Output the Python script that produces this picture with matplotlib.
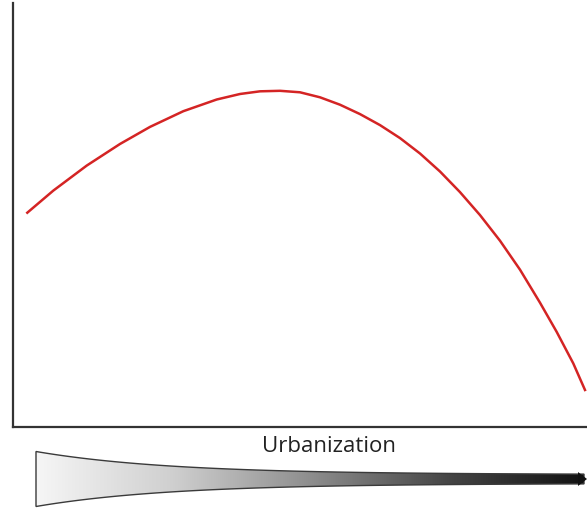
import numpy as np
import matplotlib
matplotlib.use("Agg")
import matplotlib.pyplot as plt
from matplotlib.patches import Polygon
from matplotlib.colors import LinearSegmentedColormap

# curve (urbanization 0-100, value 0-100)
urban = [2.49, 7.02, 12.84, 18.64, 23.87, 29.67, 35.49, 39.55, 43.03,
         46.52, 50.00, 53.48, 56.97, 60.45, 63.94, 67.42, 70.91, 74.39,
         77.87, 81.36, 84.84, 88.33, 91.81, 94.72, 97.61, 99.65]
value = [50.54, 55.75, 61.65, 66.75, 70.78, 74.48, 77.24, 78.54, 79.17,
         79.29, 78.94, 77.76, 76.01, 73.80, 71.20, 68.14, 64.50, 60.26,
         55.40, 49.98, 43.94, 37.10, 29.32, 22.43, 15.00, 8.73]

fig = plt.figure(figsize=(5.87, 5.08), dpi=100)

ax = fig.add_axes([13 / 587, 81 / 508, 574 / 587, 424 / 508])
ax.plot(urban, value, color="#d42424", linewidth=1.8,
        solid_joinstyle="round")
ax.set_xlim(0, 100)
ax.set_ylim(0, 100)
ax.set_xticks([])
ax.set_yticks([])
for side in ["top", "right"]:
    ax.spines[side].set_visible(False)
for side in ["left", "bottom"]:
    ax.spines[side].set_color("#333333")
    ax.spines[side].set_linewidth(1.6)

# overlay in pixel units for the label and the tapered gradient bar
ov = fig.add_axes([0, 0, 1, 1])
ov.axis("off")
ov.patch.set_visible(False)

ov.text(329, 446, "Urbanization", ha="center", va="center",
        fontsize=16, color="#222222", family="Open Sans")

xs = np.linspace(36, 584, 300)
half = 4.5 + 23 * np.exp(-(xs - 36) / 135)
cy = 479
verts = np.concatenate([np.column_stack([xs, cy - half]),
                        np.column_stack([xs[::-1], (cy + half)[::-1]])])
shape = Polygon(verts, closed=True, facecolor="none",
                edgecolor="#3a3a3a", linewidth=1.0, zorder=3)
ov.add_patch(shape)

cmap = LinearSegmentedColormap.from_list(
    "taper", ["#f6f6f6", "#cfcfcf", "#8e8e8e", "#464646", "#121212"])
grad = np.linspace(0, 1, 256).reshape(1, -1)
img = ov.imshow(grad, cmap=cmap, aspect="auto",
                extent=[36, 584, 508, 450], zorder=2)
img.set_clip_path(shape)

# small arrow tip at the right end
tip = Polygon([[578, 472], [587, 479], [578, 486]], closed=True,
              facecolor="#111111", edgecolor="none", zorder=4)
ov.add_patch(tip)

ov.set_xlim(0, 587)
ov.set_ylim(508, 0)

fig.savefig("out.png", dpi=100)
